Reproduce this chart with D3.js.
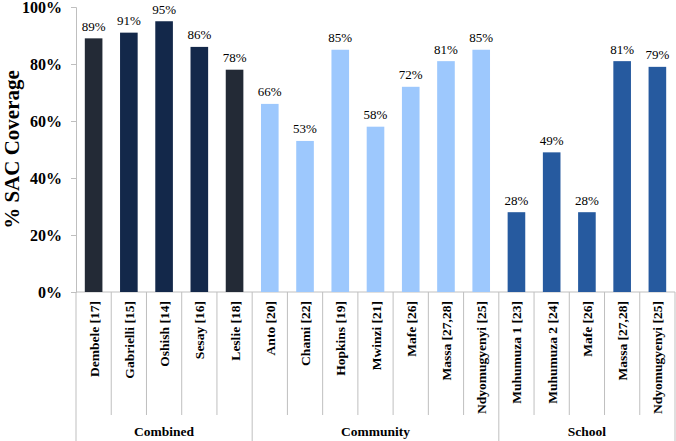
<!DOCTYPE html>
<html><head><meta charset="utf-8">
<script src="https://cdn.jsdelivr.net/npm/d3@7"></script>
<style>body{margin:0;background:#fff}svg{display:block}</style>
</head><body>
<svg id="c" width="676" height="441"></svg>
<script>
const categories = ["Dembele [17]","Gabrielli [15]","Oshish [14]","Sesay [16]","Leslie [18]",
  "Anto [20]","Chami [22]","Hopkins [19]","Mwinzi [21]","Mafe [26]","Massa [27,28]","Ndyomugyenyi [25]",
  "Muhumuza 1 [23]","Muhumuza 2 [24]","Mafe [26]","Massa [27,28]","Ndyomugyenyi [25]"];
const values = [89,91,95,86,78, 66,53,85,58,72,81,85, 28,49,28,81,79];
const groupOf = ["Combined","Combined","Combined","Combined","Combined",
  "Community","Community","Community","Community","Community","Community","Community",
  "School","School","School","School","School"];
const groups = ["Combined","Community","School"];
const barColors = ["#232a36","#13284a","#13284a","#13284a","#232a36",
  "#9dc8fd","#9dc8fd","#9dc8fd","#9dc8fd","#9dc8fd","#9dc8fd","#9dc8fd",
  "#265a9f","#265a9f","#265a9f","#265a9f","#265a9f"];
const yTicks = [0,20,40,60,80,100];

const svg = d3.select("#c");
const x0 = 76, x1 = 675, yTop = 7, yBot = 292;
const x = d3.scaleBand().domain(d3.range(categories.length)).range([x0, x1]).paddingInner(0.5).paddingOuter(0.25);
const y = d3.scaleLinear().domain([0,100]).range([yBot, yTop]);
const serif = "Liberation Serif, Times New Roman, serif";
const gray = "#bfbfbf";

// y axis
const yAxis = d3.axisLeft(y).tickValues(yTicks).tickFormat(d => d + "%").tickSize(5).tickPadding(9);
const ga = svg.append("g").attr("transform", `translate(${x0},0)`).call(yAxis);
ga.attr("font-family", serif);
ga.select(".domain").attr("stroke", gray);
ga.selectAll(".tick line").attr("stroke", gray);
ga.selectAll(".tick text").attr("font-family", serif).attr("font-weight", "bold").attr("font-size", 16).attr("fill", "#000");

svg.append("text").attr("transform", `translate(19,${(yTop+yBot)/2}) rotate(-90)`)
  .attr("text-anchor","middle").attr("font-family", serif).attr("font-weight","bold")
  .attr("font-size", 21).text("% SAC Coverage");

// baseline
svg.append("line").attr("x1", x0).attr("x2", x1).attr("y1", yBot).attr("y2", yBot).attr("stroke", gray);

// bars
svg.selectAll("rect.bar").data(values).enter().append("rect")
  .attr("x", (d,i) => x(i)).attr("width", x.bandwidth())
  .attr("y", d => y(d)).attr("height", d => yBot - y(d))
  .attr("fill", (d,i) => barColors[i]);

svg.selectAll("text.val").data(values).enter().append("text")
  .attr("x", (d,i) => x(i) + x.bandwidth()/2).attr("y", d => y(d) - 7.5)
  .attr("text-anchor","middle").attr("font-family", serif).attr("font-size", 13)
  .text(d => d + "%");

// category separators
const bounds = d3.range(categories.length + 1).map(i => x0 + i * (x1 - x0) / categories.length);
bounds.forEach((bx, i) => {
  const isGroup = i === 0 || i === categories.length || groupOf[i] !== groupOf[i-1];
  svg.append("line").attr("x1", bx).attr("x2", bx).attr("y1", yBot).attr("y2", isGroup ? 441 : 415)
    .attr("stroke", gray);
});

// category labels
svg.selectAll("text.cat").data(categories).enter().append("text")
  .attr("transform", (d,i) => `translate(${x(i) + x.bandwidth()/2 + 5},${yBot + 9}) rotate(-90)`)
  .attr("text-anchor","end").attr("font-family", serif).attr("font-weight","bold").attr("font-size", 13.5)
  .text(d => d);

// group labels
groups.forEach(g => {
  const idx = d3.range(categories.length).filter(i => groupOf[i] === g);
  const a = bounds[idx[0]], b = bounds[idx[idx.length-1] + 1];
  svg.append("text").attr("x", (a+b)/2).attr("y", 436).attr("text-anchor","middle")
    .attr("font-family", serif).attr("font-weight","bold").attr("font-size", 13.5).text(g);
});
</script>
</body></html>
